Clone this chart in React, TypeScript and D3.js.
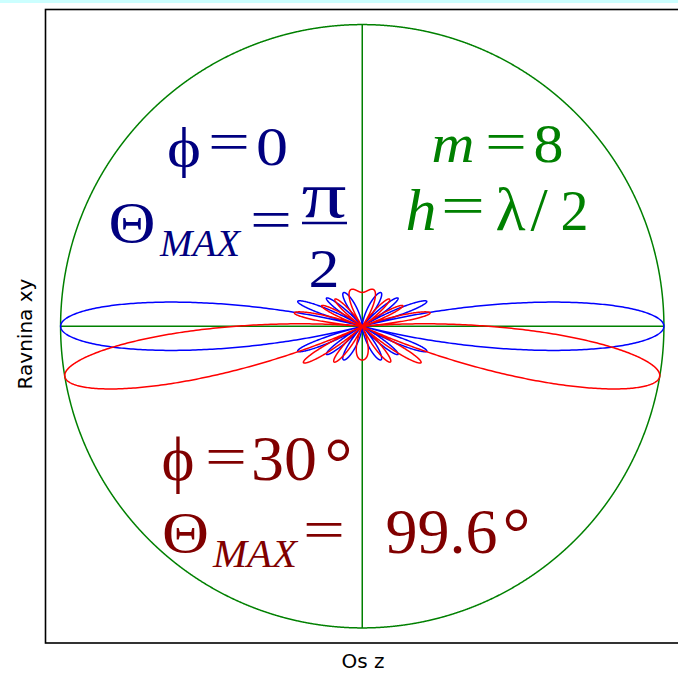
import React from "react";
import * as d3 from "d3";

// Array parameters (number of elements, spacing in wavelengths, feed phases)
const elementCount = [8];
const spacingWavelengths = [0.5];
const phaseDegrees = [0, 30];
const patternColors = ["#0000ff", "#ff0000"];
const sampleCount = 3600;

const W = 678;
const H = 676;
const frame = { left: 45.5, top: 9.5, bottom: 643 };
const limit = 1.05;

// Normalised array factor of a uniform linear array
function arrayFactor(theta: number, m: number, h: number, phi: number) {
  const psi = 2 * Math.PI * h * Math.cos(theta) + phi;
  const den = m * Math.sin(psi / 2);
  if (Math.abs(den) < 1e-9) return 1;
  return Math.abs(Math.sin((m * psi) / 2) / den);
}

type Opts = { size?: number; italic?: boolean; anchor?: string; tl?: number };

export default function App() {
  const plotH = frame.bottom - frame.top;
  const scale = plotH / (2 * limit);
  const x = d3
    .scaleLinear()
    .domain([-limit, limit])
    .range([frame.left, frame.left + 2 * limit * scale]);
  const y = d3.scaleLinear().domain([-limit, limit]).range([frame.bottom, frame.top]);

  const thetas = d3.range(sampleCount + 1).map((i) => (2 * Math.PI * i) / sampleCount);
  const line = d3
    .line<[number, number]>()
    .x((d) => x(d[0]))
    .y((d) => y(d[1]));

  const patterns = phaseDegrees.map((deg) => {
    const phi = (deg * Math.PI) / 180;
    const pts: [number, number][] = thetas.map((t) => {
      const r = arrayFactor(t, elementCount[0], spacingWavelengths[0], phi);
      return [r * Math.sin(t), r * Math.cos(t)];
    });
    return line(pts) || "";
  });

  const circlePts: [number, number][] = thetas.map((t) => [Math.sin(t), Math.cos(t)]);

  const serif = "'Liberation Serif', 'Times New Roman', 'DejaVu Serif', serif";
  const navy = "#000080";
  const green = "#008000";
  const maroon = "#800000";

  const T = (s: string, cx: number, by: number, color: string, opts: Opts = {}) => (
    <text
      x={cx}
      y={by}
      fill={color}
      fontFamily={serif}
      fontSize={opts.size ?? 55}
      fontStyle={opts.italic ? "italic" : "normal"}
      textAnchor={opts.anchor ?? "middle"}
      textLength={opts.tl}
      lengthAdjust={opts.tl ? "spacingAndGlyphs" : undefined}
    >
      {s}
    </text>
  );

  return (
    <div style={{ position: "absolute", left: 0, top: 0 }}>
      <svg width={W} height={H} style={{ display: "block", background: "#ffffff" }}>
        <rect x={0} y={0} width={W} height={3} fill="#ccffff" />
        <rect
          x={frame.left}
          y={frame.top}
          width={2 * limit * scale}
          height={plotH}
          fill="none"
          stroke="#000"
          strokeWidth={1.6}
        />
        <path d={line(circlePts) || ""} fill="none" stroke={green} strokeWidth={1.5} />
        <line x1={x(-1)} x2={x(1)} y1={y(0)} y2={y(0)} stroke={green} strokeWidth={1.5} />
        <line x1={x(0)} x2={x(0)} y1={y(-1)} y2={y(1)} stroke={green} strokeWidth={1.5} />
        {patterns.map((d, i) => (
          <path key={i} d={d} fill="none" stroke={patternColors[i]} strokeWidth={1.5} />
        ))}

        {/* broadside case */}
        {T("ϕ", 184, 166, navy, { size: 55, tl: 34 })}
        {T("=", 229, 160, navy, { tl: 42 })}
        {T("0", 272, 165, navy, { tl: 32 })}
        {T("Θ", 132, 242, navy, { size: 56, tl: 47 })}
        {T("MAX", 160, 256, navy, { size: 38, italic: true, anchor: "start", tl: 80 })}
        {T("=", 271, 237.5, navy, { tl: 42 })}
        {T("π", 324, 217, navy, { size: 66, tl: 45 })}
        <line x1={302} x2={347} y1={223} y2={223} stroke={navy} strokeWidth={2.5} />
        {T("2", 324, 287, navy, { tl: 31 })}

        {/* array parameters */}
        {T("m", 453, 162, green, { italic: true, tl: 43 })}
        {T("=", 506, 160, green, { tl: 42 })}
        {T("8", 548.5, 162, green, { tl: 30 })}
        {T("h", 421, 230, green, { size: 60, italic: true, tl: 31 })}
        {T("=", 463, 224, green, { tl: 44 })}
        {T("λ", 510.5, 230, green, { size: 62 })}
        {T("/", 539, 230, green, { size: 62 })}
        {T("2", 574.5, 230, green, { size: 58, tl: 28 })}

        {/* phased case */}
        {T("ϕ", 178, 480, maroon, { size: 63, tl: 33 })}
        {T("=", 226, 474.5, maroon, { tl: 42 })}
        {T("30", 284, 480, maroon, { size: 63, tl: 66 })}
        {T("°", 338.5, 486, maroon, { size: 70 })}
        {T("Θ", 185.5, 552, maroon, { size: 56, tl: 47 })}
        {T("MAX", 213, 567, maroon, { size: 39, italic: true, anchor: "start", tl: 84 })}
        {T("=", 324, 547.5, maroon, { tl: 42 })}
        {T("99.6", 441.5, 553, maroon, { size: 63, tl: 112 })}
        {T("°", 516.5, 556, maroon, { size: 70 })}

        <text
          x={363}
          y={668}
          fontFamily="'DejaVu Sans', sans-serif"
          fontSize={20}
          textAnchor="middle"
          fill="#000"
        >
          Os z
        </text>
        <text
          transform={`translate(32,334) rotate(-90)`}
          fontFamily="'DejaVu Sans', sans-serif"
          fontSize={20}
          textAnchor="middle"
          fill="#000"
        >
          Ravnina xy
        </text>
      </svg>
    </div>
  );
}
